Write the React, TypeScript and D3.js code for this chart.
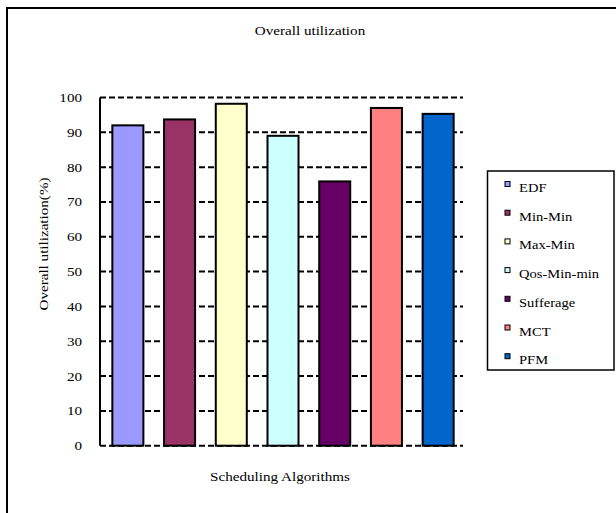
import React from "react";
import * as d3 from "d3";

const categories = ["EDF", "Min-Min", "Max-Min", "Qos-Min-min", "Sufferage", "MCT", "PFM"];
const utilization = [92, 93.7, 98.2, 89, 75.9, 97, 95.3];
const colors = ["#9999FF", "#993366", "#FFFFCC", "#CCFFFF", "#660066", "#FF8080", "#0066CC"];
const yTicks = [0, 10, 20, 30, 40, 50, 60, 70, 80, 90, 100];

const W = 616;
const H = 513;
const FONT = "Liberation Serif";
const SX = 1.12;

function T({ x, y, anchor = "start", size = 13, rotate = 0, children }: any) {
  const tf = rotate
    ? `translate(${x},${y}) rotate(${rotate}) scale(${SX},1)`
    : `translate(${x},${y}) scale(${SX},1)`;
  return (
    <text transform={tf} textAnchor={anchor} style={{ fontFamily: FONT, fontSize: size }} fill="#000">
      {children}
    </text>
  );
}

export default function App() {
  const left = 100;
  const right = 463;
  const y = d3.scaleLinear().domain([0, 100]).range([445.7, 97.5]);
  const x = d3
    .scaleBand<string>()
    .domain(categories)
    .range([102, 464])
    .paddingInner(0.4)
    .paddingOuter(0.2);

  const legendX = 487.5;
  const legendY = 171;
  const rowH = 28.7;

  return (
    <svg
      width={W}
      height={H}
      style={{ position: "absolute", left: 0, top: 0, background: "#fff" }}
    >
      <rect x={0} y={0} width={W} height={H} fill="#fff" />
      {/* outer chart frame */}
      <rect x={7} y={8} width={W + 20} height={H + 20} fill="none" stroke="#000" strokeWidth={2} />

      <T x={310} y={35} anchor="middle" size={13.5}>Overall utilization</T>

      {/* dashed gridlines */}
      {yTicks.map((t) => (
        <line
          key={t}
          x1={left}
          x2={right}
          y1={y(t)}
          y2={y(t)}
          stroke="#000"
          strokeWidth={2}
          strokeDasharray="6,3"
        />
      ))}
      {yTicks.map((t) => (
        <T key={"l" + t} x={82} y={y(t) + 4.5} anchor="end" size={13.5}>
          {t}
        </T>
      ))}

      {/* bars */}
      {categories.map((c, i) => (
        <rect
          key={c}
          x={x(c)!}
          y={y(utilization[i])}
          width={x.bandwidth()}
          height={y(0) - y(utilization[i])}
          fill={colors[i]}
          stroke="#000"
          strokeWidth={2}
        />
      ))}

      {/* value axis */}
      <line x1={left} x2={left} y1={y(100)} y2={y(0)} stroke="#000" strokeWidth={2} />

      <T x={48} y={244} anchor="middle" rotate={-90} size={13.5}>
        Overall utilization(%)
      </T>
      <T x={280} y={481} anchor="middle" size={13.5}>Scheduling Algorithms</T>

      {/* legend */}
      <rect
        x={legendX}
        y={legendY}
        width={126.5}
        height={199}
        fill="#fff"
        stroke="#000"
        strokeWidth={1.5}
      />
      {categories.map((c, i) => {
        const by = 192 + i * rowH;
        return (
          <g key={"lg" + c}>
            <rect x={505} y={by - 10.5} width={5} height={5} fill={colors[i]} stroke="#000" strokeWidth={1} />
            <T x={519} y={by} size={13}>
              {c}
            </T>
          </g>
        );
      })}
    </svg>
  );
}
